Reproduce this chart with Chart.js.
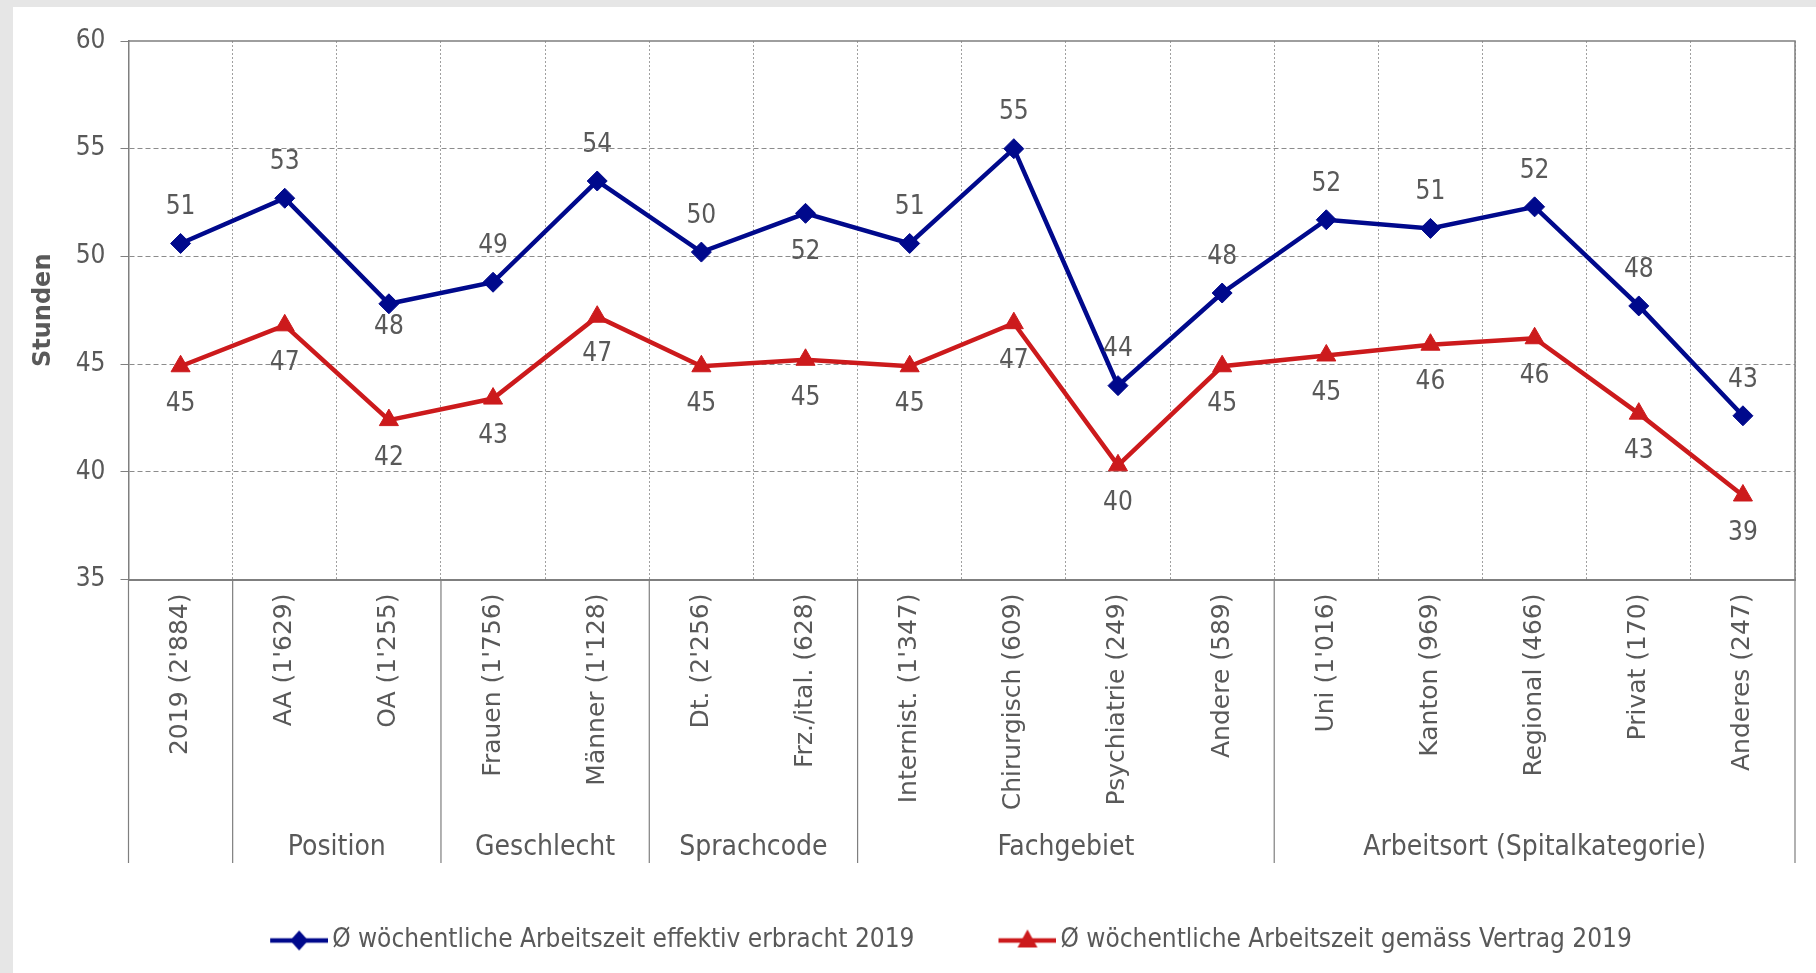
<!doctype html>
<html>
<head>
<meta charset="utf-8">
<title>Wöchentliche Arbeitszeit 2019</title>
<script src="https://cdn.jsdelivr.net/npm/chart.js"></script>
<style>
  html, body { margin: 0; padding: 0; background: #e6e6e6; }
  #wrap { position: absolute; left: 13px; top: 7px; width: 1803px; height: 966px; background: #fff; }
</style>
</head>
<body>
<div id="wrap"><canvas id="chart" width="1803" height="966"></canvas></div>
<script>
const categories = ["2019 (2'884)", "AA (1'629)", "OA (1'255)", "Frauen (1'756)", "Männer (1'128)",
  "Dt. (2'256)", "Frz./ital. (628)", "Internist. (1'347)", "Chirurgisch (609)", "Psychiatrie (249)",
  "Andere (589)", "Uni (1'016)", "Kanton (969)", "Regional (466)", "Privat (170)", "Anderes (247)"];
const effektiv = [50.6, 52.7, 47.8, 48.8, 53.5, 50.2, 52.0, 50.6, 55.0, 44.0, 48.3, 51.7, 51.3, 52.3, 47.7, 42.6];
const vertrag = [44.9, 46.8, 42.4, 43.4, 47.2, 44.9, 45.2, 44.9, 46.9, 40.3, 44.9, 45.4, 45.9, 46.2, 42.7, 38.9];
const seriesNames = ['Ø wöchentliche Arbeitszeit effektiv erbracht 2019', 'Ø wöchentliche Arbeitszeit gemäss Vertrag 2019'];
const groupNames = ['', 'Position', 'Geschlecht', 'Sprachcode', 'Fachgebiet', 'Arbeitsort (Spitalkategorie)'];
const groupSizes = [1, 2, 2, 2, 4, 5];
const yMin = 35, yMax = 60, yStep = 5;

const BLUE = '#00098c';
const RED = '#cc1a1c';
const GREY = '#595959';
const NARROW = '"DejaVu Sans Condensed", "DejaVu Sans", sans-serif';
const WIDE = '"DejaVu Sans", sans-serif';

// offsets of the value labels from their point (px, negative = above)
const effektivBelow = {2: 23, 6: 39};

const BOX_W = 123;
const ICON_W = BOX_W + 18;
function legendIcon(color, shape) {
  const c = document.createElement('canvas');
  c.width = ICON_W; c.height = 26;
  const g = c.getContext('2d');
  const x0 = ICON_W - 58, cx = x0 + 29, cy = 13;
  g.strokeStyle = color; g.lineWidth = 4.5;
  g.beginPath(); g.moveTo(x0, cy); g.lineTo(ICON_W, cy); g.stroke();
  g.fillStyle = color; g.beginPath();
  if (shape === 'diamond') {
    g.moveTo(cx, cy - 10); g.lineTo(cx + 9, cy); g.lineTo(cx, cy + 10); g.lineTo(cx - 9, cy);
  } else {
    g.moveTo(cx, cy - 11); g.lineTo(cx + 10, cy + 7); g.lineTo(cx - 10, cy + 7);
  }
  g.closePath(); g.fill();
  return c;
}
const legendIcons = [legendIcon(BLUE, 'diamond'), legendIcon(RED, 'triangle')];

const valueLabels = {
  id: 'valueLabels',
  afterDatasetsDraw(chart) {
    const ctx = chart.ctx;
    ctx.save();
    ctx.font = '26px ' + NARROW;
    ctx.fillStyle = GREY;
    ctx.textAlign = 'center';
    ctx.textBaseline = 'middle';
    chart.data.datasets.forEach((ds, di) => {
      chart.getDatasetMeta(di).data.forEach((pt, i) => {
        let off = di === 0 ? -36 : 38;
        if (di === 0 && effektivBelow[i] !== undefined) off = effektivBelow[i];
        ctx.fillText(String(Math.round(ds.data[i])), pt.x, pt.y + off);
      });
    });
    ctx.restore();
  }
};

const frameAndGroups = {
  id: 'frameAndGroups',
  afterDraw(chart) {
    const {ctx, chartArea: a} = chart;
    const xs = chart.scales.x;
    ctx.save();
    ctx.strokeStyle = '#7f7f7f';
    ctx.lineWidth = 1.5;
    ctx.beginPath();
    ctx.moveTo(a.left, a.top); ctx.lineTo(a.right, a.top); ctx.lineTo(a.right, a.bottom);
    ctx.stroke();
    const edge = i => {
      if (i <= 0) return a.left;
      if (i >= categories.length) return a.right;
      return (xs.getPixelForTick(i - 1) + xs.getPixelForTick(i)) / 2;
    };
    const bottom = 856;
    ctx.lineWidth = 1.2;
    ctx.font = '28px ' + NARROW;
    ctx.fillStyle = GREY;
    ctx.textAlign = 'center';
    ctx.textBaseline = 'middle';
    let start = 0;
    ctx.beginPath();
    ctx.moveTo(edge(0), a.bottom); ctx.lineTo(edge(0), bottom);
    groupSizes.forEach((n, g) => {
      const end = start + n;
      const x = edge(end);
      ctx.moveTo(x, a.bottom); ctx.lineTo(x, bottom);
      if (groupNames[g]) ctx.fillText(groupNames[g], (edge(start) + x) / 2, 841);
      start = end;
    });
    ctx.stroke();
    ctx.restore();
  }
};

new Chart(document.getElementById('chart'), {
  type: 'line',
  data: {
    labels: categories,
    datasets: [{
      label: seriesNames[0],
      data: effektiv,
      borderColor: BLUE,
      backgroundColor: BLUE,
      borderWidth: 4.5,
      pointStyle: 'rectRot',
      pointRadius: 10,
      pointBorderWidth: 1,
      tension: 0
    }, {
      label: seriesNames[1],
      data: vertrag,
      borderColor: RED,
      backgroundColor: RED,
      borderWidth: 4.5,
      pointStyle: 'triangle',
      pointRadius: 11,
      pointBorderWidth: 1,
      tension: 0
    }]
  },
  options: {
    responsive: false,
    animation: false,
    layout: { padding: { left: 20, right: 21, top: 34, bottom: 9.5 } },
    scales: {
      x: {
        offset: true,
        grid: {
          offset: true,
          drawTicks: false,
          color: c => (c.index === 0 || c.index >= categories.length) ? 'rgba(0,0,0,0)' : '#a0a0a0',
          lineWidth: 1
        },
        border: { color: '#7f7f7f', width: 2, dash: [2, 2] },
        ticks: {
          autoSkip: false, maxRotation: 90, minRotation: 90, padding: 14,
          color: GREY, font: { family: WIDE, size: 25 }
        },
        afterFit(scale) { scale.height = 338; }
      },
      y: {
        min: yMin, max: yMax,
        grid: {
          color: c => c.tick && c.tick.value === yMax ? 'rgba(0,0,0,0)' : '#8c8c8c',
          tickColor: '#7f7f7f', tickLength: 8, lineWidth: 1
        },
        border: { color: '#7f7f7f', width: 1.5, dash: [5, 3] },
        ticks: { stepSize: yStep, padding: 15, color: GREY, font: { family: NARROW, size: 26 } },
        title: {
          display: true, text: 'Stunden', color: GREY,
          font: { family: WIDE, size: 24, weight: 'bold' },
          padding: { top: -4, bottom: 0 }
        },
        afterFit(scale) { scale.width = 95.5; }
      }
    },
    plugins: {
      tooltip: { enabled: false },
      legend: {
        position: 'bottom',
        labels: {
          usePointStyle: true,
          pointStyleWidth: BOX_W,
          padding: 10,
          color: GREY,
          font: { family: NARROW, size: 26 },
          generateLabels(chart) {
            const items = Chart.defaults.plugins.legend.labels.generateLabels(chart);
            items.forEach((it, i) => { it.pointStyle = legendIcons[i]; });
            return items;
          }
        }
      }
    }
  },
  plugins: [valueLabels, frameAndGroups]
});
</script>
</body>
</html>
